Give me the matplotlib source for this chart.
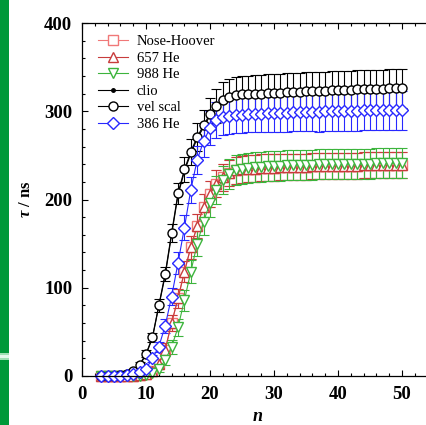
import matplotlib
matplotlib.use("Agg")
import matplotlib.pyplot as plt
from matplotlib.patches import Rectangle

plt.rcParams['font.family'] = ['Liberation Serif', 'DejaVu Serif']
plt.rcParams['mathtext.fontset'] = 'custom'
plt.rcParams['mathtext.it'] = 'Liberation Serif:italic:bold'
plt.rcParams['mathtext.rm'] = 'Liberation Serif:bold'

labels = ['Nose-Hoover', '657 He', '988 He', 'clio', 'vel scal', '386 He']

# chain length n = 3 .. 50
n = list(range(3, 51))

vel_scal = [0, 0, 0, 1, 2, 6, 13, 25, 44, 80,
            116, 162, 207, 234, 254, 271, 284, 297, 306, 313,
            316, 318, 319, 319, 320, 320, 321, 321, 321, 322,
            322, 322, 323, 323, 323, 323, 324, 324, 324, 324,
            325, 325, 325, 325, 325, 326, 326, 326]
vel_scal_err = [0, 0, 0, 1, 1, 2, 3, 4, 5, 7,
                8, 10, 12, 14, 15, 16, 17, 18, 19, 20,
                20, 21, 21, 21, 21, 21, 21, 21, 21, 21,
                21, 21, 21, 21, 21, 22, 22, 22, 22, 22,
                22, 22, 22, 22, 22, 22, 22, 22]

clio = [0, 0, 0, 1, 2, 5, 12, 24, 43, 79,
        114, 160, 205, 232, 252, 269, 282, 295, 304, 311,
        314, 316, 317, 317, 318, 318, 319, 319, 319, 320,
        320, 320, 321, 321, 321, 321, 322, 322, 322, 322,
        323, 323, 323, 323, 323, 324, 324, 324]

he386 = [0, 0, 0, 0, 1, 2, 4, 8, 20, 33,
         57, 90, 128, 168, 211, 245, 266, 281, 290, 293,
         295, 296, 296, 297, 297, 297, 298, 298, 298, 298,
         299, 299, 299, 299, 299, 300, 300, 300, 300, 300,
         300, 301, 301, 301, 301, 301, 301, 301]
he386_err = [0, 0, 0, 0, 1, 1, 2, 3, 4, 6,
             8, 10, 12, 14, 15, 16, 18, 19, 20, 20,
             21, 21, 21, 21, 21, 21, 21, 21, 21, 21,
             21, 21, 21, 21, 22, 22, 22, 22, 22, 22,
             22, 22, 22, 22, 22, 22, 22, 22]

he657 = [0, 0, 0, 0, 0, 0, 1, 2, 6, 14,
         30, 60, 88, 118, 146, 170, 192, 206, 218, 225,
         230, 233, 234, 235, 235, 236, 236, 236, 237, 237,
         237, 237, 237, 238, 238, 238, 238, 238, 238, 238,
         238, 239, 239, 239, 239, 239, 239, 239]
he657_err = [0, 0, 0, 0, 0, 1, 1, 2, 3, 5,
             7, 9, 11, 12, 13, 14, 14, 15, 15, 15,
             15, 15, 15, 15, 15, 15, 15, 15, 15, 15,
             15, 15, 15, 15, 15, 15, 15, 15, 15, 15,
             15, 15, 15, 15, 15, 15, 15, 15]

nose_hoover = list(he657)
nose_hoover_err = list(he657_err)

he988 = [0, 0, 0, 0, 0, 0, 0, 1, 3, 8,
         18, 33, 55, 86, 118, 150, 175, 196, 211, 222,
         229, 233, 235, 236, 237, 237, 238, 238, 238, 239,
         239, 239, 239, 239, 240, 240, 240, 240, 240, 240,
         240, 240, 240, 241, 241, 241, 241, 241]
he988_err = [0, 0, 0, 0, 0, 0, 1, 1, 2, 4,
             6, 8, 10, 12, 13, 14, 15, 16, 16, 16,
             17, 17, 17, 17, 17, 17, 17, 17, 17, 17,
             17, 17, 17, 17, 17, 17, 17, 17, 17, 17,
             17, 17, 17, 17, 17, 17, 17, 17]

fig = plt.figure(figsize=(4.27, 4.25), dpi=100)
W, H = 427, 425
ax = fig.add_axes([82 / W, (H - 376) / H, 352 / W, 353 / H])

ms = 6.5
lw = 0.8
ekw = dict(elinewidth=lw, capsize=3.5, capthick=lw, clip_on=False)

handles = []
c = ax.errorbar(n, nose_hoover, yerr=nose_hoover_err, color='#f07878', marker='s',
                mfc='white', ms=ms, lw=lw, **ekw)
handles.append(c.lines[0])
c = ax.errorbar(n, he657, yerr=he657_err, color='#c83c3c', marker='^',
                mfc='white', ms=ms, lw=lw, **ekw)
handles.append(c.lines[0])
c = ax.errorbar(n, he988, yerr=he988_err, color='#3cb43c', marker='v',
                mfc='white', ms=ms, lw=lw, **ekw)
handles.append(c.lines[0])
l, = ax.plot(n, clio, color='black', marker='o', ms=2.5, lw=lw, clip_on=False)
handles.append(l)
c = ax.errorbar(n, vel_scal, yerr=vel_scal_err, color='black', marker='o',
                mfc='white', ms=ms, lw=lw, **ekw)
handles.append(c.lines[0])
c = ax.errorbar(n, he386, yerr=he386_err, color='#2828ff', marker='D',
                mfc='white', ms=ms - 0.8, lw=lw, **ekw)
handles.append(c.lines[0])

ax.set_xlim(0, 55)
ax.set_ylim(0, 400)
ax.set_xticks(range(0, 51, 10))
ax.set_xticks(range(0, 55, 2), minor=True)
ax.set_yticks(range(0, 401, 100))
ax.set_yticks(range(0, 401, 20), minor=True)
ax.tick_params(which='both', direction='in', top=True, right=False, width=0.8)
ax.tick_params(which='major', length=4.3, labelsize=13.5, pad=7)
ax.tick_params(which='minor', length=2.2)
for lab in ax.get_xticklabels() + ax.get_yticklabels():
    lab.set_fontweight('bold')
for sp in ax.spines.values():
    sp.set_linewidth(0.9)

ax.set_ylabel(r'$\tau$ / ns', fontsize=12, fontweight='bold', labelpad=7)
ax.set_xlabel(r'$n$', fontsize=13, labelpad=4)

ax.legend(handles=handles, labels=labels,
          loc='upper left', bbox_to_anchor=(16 / 352, 1 - 12 / 353),
          frameon=False, fontsize=10.5, borderpad=0, borderaxespad=0,
          labelspacing=0.23, handlelength=2.05, handletextpad=0.6)

# green page strip on the left edge
fig.add_artist(Rectangle((0, 0), 8.7 / W, 1, transform=fig.transFigure,
                         color='#00993a', lw=0))
fig.add_artist(Rectangle((0, (H - 360) / H), 8.7 / W, 7 / H, transform=fig.transFigure,
                         color='#9ee0b4', lw=0))
fig.add_artist(Rectangle((0, (H - 358) / H), 8.7 / W, 3 / H, transform=fig.transFigure,
                         color='#e4f8ec', lw=0))

fig.savefig('out.png', dpi=100)
